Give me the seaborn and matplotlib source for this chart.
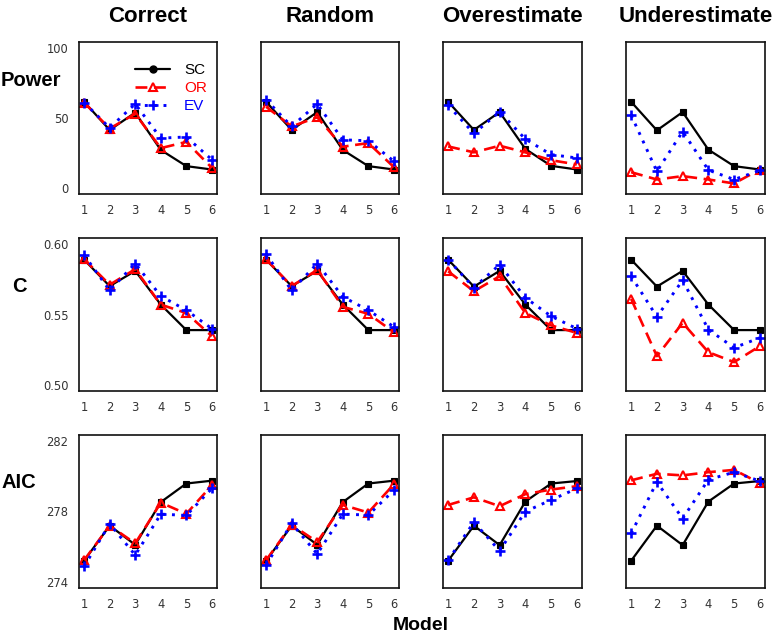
import numpy as np
import pandas as pd
import matplotlib
matplotlib.use("Agg")
import matplotlib.pyplot as plt
from matplotlib.lines import Line2D
import seaborn as sns

# ---------------- data ----------------
scenarios = ["Correct", "Random", "Overestimate", "Underestimate"]
metrics = ["Power", "C", "AIC"]
models = [1, 2, 3, 4, 5, 6]

power_sc = {"Correct": [61.5, 41.5, 53.8, 27.3, 15.8, 13.4],
            "Random": [61.5, 41.5, 54.2, 27.3, 15.8, 13.4],
            "Overestimate": [61.5, 41.5, 54.2, 28.0, 16.0, 13.4],
            "Underestimate": [61.5, 41.2, 54.2, 27.5, 15.8, 13.4]}
power_or = {"Correct": [61.0, 42.5, 53.0, 28.6, 33.0, 14.6],
            "Random": [58.0, 44.0, 50.5, 29.6, 32.2, 15.1],
            "Overestimate": [29.8, 25.6, 30.3, 25.6, 20.0, 17.0],
            "Underestimate": [11.5, 6.3, 8.7, 6.3, 3.5, 13.4]}
power_ev = {"Correct": [61.0, 43.0, 60.0, 35.7, 36.5, 20.4],
            "Random": [63.0, 44.0, 60.0, 34.5, 33.8, 19.3],
            "Overestimate": [59.0, 39.0, 54.4, 35.0, 24.0, 21.6],
            "Underestimate": [52.0, 12.0, 40.4, 13.0, 6.3, 12.7]}

c_sc = {"Correct": [0.5887, 0.5700, 0.5808, 0.5570, 0.5390, 0.5390],
        "Random": [0.5887, 0.5700, 0.5808, 0.5570, 0.5390, 0.5390],
        "Overestimate": [0.5887, 0.5697, 0.5808, 0.5570, 0.5390, 0.5390],
        "Underestimate": [0.5887, 0.5697, 0.5808, 0.5570, 0.5390, 0.5390]}
c_or = {"Correct": [0.5890, 0.5710, 0.5820, 0.5570, 0.5510, 0.5347],
        "Random": [0.5890, 0.5700, 0.5815, 0.5554, 0.5505, 0.5375],
        "Overestimate": [0.5805, 0.5664, 0.5770, 0.5510, 0.5423, 0.5370],
        "Underestimate": [0.5610, 0.5206, 0.5441, 0.5234, 0.5164, 0.5277]}
c_ev = {"Correct": [0.5920, 0.5670, 0.5860, 0.5630, 0.5530, 0.5400],
        "Random": [0.5925, 0.5670, 0.5860, 0.5625, 0.5530, 0.5413],
        "Overestimate": [0.5887, 0.5690, 0.5852, 0.5618, 0.5488, 0.5400],
        "Underestimate": [0.5770, 0.5484, 0.5742, 0.5394, 0.5265, 0.5336]}

aic_sc = {"Correct": [275.22, 277.20, 276.12, 278.53, 279.58, 279.74],
          "Random": [275.22, 277.20, 276.12, 278.53, 279.58, 279.74],
          "Overestimate": [275.22, 277.20, 276.10, 278.56, 279.58, 279.72],
          "Underestimate": [275.22, 277.20, 276.10, 278.56, 279.58, 279.72]}
aic_or = {"Correct": [275.25, 277.20, 276.20, 278.50, 277.87, 279.48],
          "Random": [275.25, 277.25, 276.28, 278.37, 277.94, 279.54],
          "Overestimate": [278.37, 278.80, 278.30, 278.98, 279.24, 279.43],
          "Underestimate": [279.76, 280.13, 280.04, 280.22, 280.35, 279.60]}
aic_ev = {"Correct": [274.90, 277.30, 275.54, 277.85, 277.78, 279.30],
          "Random": [274.98, 277.33, 275.60, 277.85, 277.80, 279.20],
          "Overestimate": [275.25, 277.40, 275.78, 278.00, 278.65, 279.30],
          "Underestimate": [276.76, 279.67, 277.60, 279.80, 280.22, 279.72]}

y_ticks = {"Power": [0, 50, 100], "C": [0.50, 0.55, 0.60], "AIC": [274, 278, 282]}
y_ticklabels = {"Power": ["0", "50", "100"], "C": ["0.50", "0.55", "0.60"],
                "AIC": ["274", "278", "282"]}

series_data = {"Power": {"SC": power_sc, "OR": power_or, "EV": power_ev},
               "C": {"SC": c_sc, "OR": c_or, "EV": c_ev},
               "AIC": {"SC": aic_sc, "OR": aic_or, "EV": aic_ev}}

# long-form table
rows = []
for m in metrics:
    for meth in ["SC", "OR", "EV"]:
        for sc in scenarios:
            for mod, v in zip(models, series_data[m][meth][sc]):
                rows.append(dict(metric=m, method=meth, scenario=sc, model=mod, value=v))
df = pd.DataFrame(rows)

# ---------------- styling ----------------
styles = {
    "SC": dict(color="black", marker="s", markersize=4.2, linestyle="-",
               markerfacecolor="black", markeredgecolor="black", markeredgewidth=0.8,
               linewidth=1.6),
    "OR": dict(color="#ff0000", marker="^", markersize=5.2, linestyle=(0, (4.5, 2.5)),
               markerfacecolor="none", markeredgecolor="#ff0000", markeredgewidth=1.5,
               linewidth=1.9),
    "EV": dict(color="#0000ff", marker="+", markersize=6.8, linestyle=(0, (1, 2.2)),
               markerfacecolor="#0000ff", markeredgecolor="#0000ff", markeredgewidth=1.9,
               linewidth=2.1),
}

sns.set_style("white")
plt.rcParams["font.family"] = ["Liberation Sans", "DejaVu Sans"]

W, H = 777, 636
fig = plt.figure(figsize=(W / 100, H / 100), dpi=100)

col_x = [(79, 217), (261, 399), (443, 582), (626, 765)]
row_y = [(42, 194), (238, 391), (435, 588)]
ylims = {"Power": (-4, 104), "C": (0.496, 0.604), "AIC": (273.68, 282.32)}

for ri, m in enumerate(metrics):
    for ci, sc in enumerate(scenarios):
        x0, x1 = col_x[ci]
        y0, y1 = row_y[ri]
        ax = fig.add_axes([x0 / W, 1 - y1 / H, (x1 - x0) / W, (y1 - y0) / H])
        for meth in ["SC", "OR", "EV"]:
            sub = df[(df.metric == m) & (df.method == meth) & (df.scenario == sc)]
            sns.lineplot(data=sub, x="model", y="value", ax=ax, errorbar=None,
                         sort=False, **styles[meth])
        ax.set_xlim(0.8, 6.2)
        ax.set_ylim(*ylims[m])
        ax.set_xticks(models)
        ax.set_xticklabels([str(v) for v in models])
        ax.set_xlabel("")
        ax.set_ylabel("")
        for s in ax.spines.values():
            s.set_visible(True)
            s.set_color("#111111")
            s.set_linewidth(1.2)
        ax.tick_params(axis="both", direction="out", length=4.5, width=1.0,
                       color="#111111", labelsize=8.3, labelcolor="#333333", pad=3)
        for lab in ax.get_xticklabels():
            lab.set_family("DejaVu Sans")
        if ci == 0:
            ax.set_yticks(y_ticks[m])
            ax.set_yticklabels(y_ticklabels[m])
            for lab in ax.get_yticklabels():
                lab.set_family("DejaVu Sans")
        else:
            ax.set_yticks([])
        if ri == 0 and ci == 0:
            handles = [
                Line2D([], [], color="black", marker="o", markersize=5, linestyle="-",
                       linewidth=1.6),
                Line2D([], [], color="#ff0000", marker="^", markersize=5.5,
                       markerfacecolor="none", markeredgewidth=1.5,
                       linestyle=(0, (4.5, 2.5)), linewidth=1.9),
                Line2D([], [], color="#0000ff", marker="+", markersize=7,
                       markeredgewidth=1.9, linestyle=(0, (1, 2.2)), linewidth=2.1),
            ]
            leg = ax.legend(handles, ["SC", "OR", "EV"], loc="upper left",
                            bbox_to_anchor=(0.33, 0.93), frameon=False,
                            fontsize=11, handlelength=2.3, handletextpad=0.9,
                            labelspacing=0.25, borderpad=0.2)
            for t, c in zip(leg.get_texts(), ["black", "#ff0000", "#0000ff"]):
                t.set_color(c)

# column titles
for ci, sc in enumerate(scenarios):
    cx = (col_x[ci][0] + col_x[ci][1]) / 2
    fig.text(cx / W, 1 - 16 / H, sc, ha="center", va="center",
             fontsize=16, fontweight="bold", color="black")

# row labels
row_label_pos = {"Power": (31, 81), "C": (19, 287), "AIC": (19, 482)}
for m in metrics:
    x, y = row_label_pos[m]
    fig.text(x / W, 1 - y / H, m, ha="center", va="center",
             fontsize=14.5, fontweight="bold", color="black")

fig.text(421 / W, 1 - 626 / H, "Model", ha="center", va="center",
         fontsize=14, fontweight="bold", color="black")

fig.savefig("out.png", dpi=100)
